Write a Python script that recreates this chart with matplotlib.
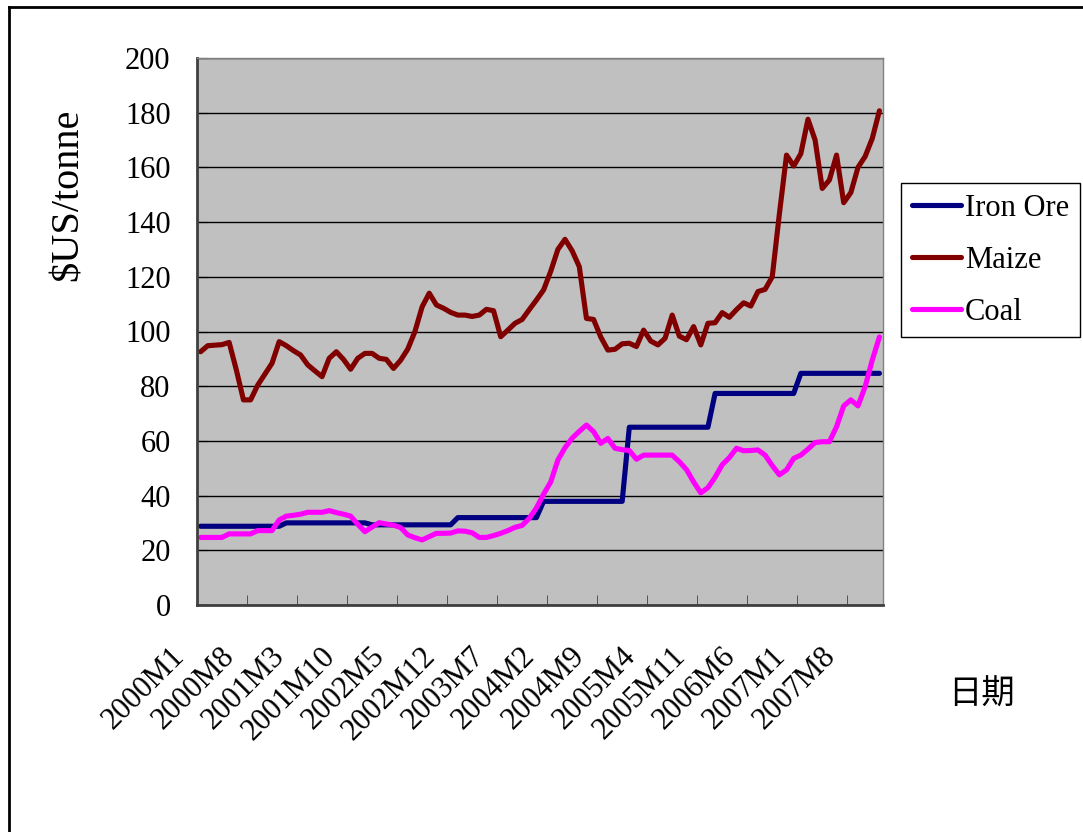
import matplotlib
matplotlib.use('Agg')
import matplotlib.pyplot as plt
from matplotlib.transforms import ScaledTranslation
from matplotlib.lines import Line2D
import numpy as np

plt.rcParams['font.family'] = ['Liberation Serif', 'Noto Sans CJK TC']

# monthly categories 2000M1 .. 2007M12
months = [f"{2000 + k // 12}M{k % 12 + 1}" for k in range(96)]

iron_ore = [
    28.79, 28.79, 28.79, 28.79, 28.79, 28.79, 28.79, 28.79, 28.79, 28.79, 28.79, 28.79,
    30.03, 30.03, 30.03, 30.03, 30.03, 30.03, 30.03, 30.03, 30.03, 30.03, 30.03, 30.03,
    29.31, 29.31, 29.31, 29.31, 29.31, 29.31, 29.31, 29.31, 29.31, 29.31, 29.31, 29.31,
    31.95, 31.95, 31.95, 31.95, 31.95, 31.95, 31.95, 31.95, 31.95, 31.95, 31.95, 31.95,
    37.90, 37.90, 37.90, 37.90, 37.90, 37.90, 37.90, 37.90, 37.90, 37.90, 37.90, 37.90,
    65.00, 65.00, 65.00, 65.00, 65.00, 65.00, 65.00, 65.00, 65.00, 65.00, 65.00, 65.00,
    77.35, 77.35, 77.35, 77.35, 77.35, 77.35, 77.35, 77.35, 77.35, 77.35, 77.35, 77.35,
    84.70, 84.70, 84.70, 84.70, 84.70, 84.70, 84.70, 84.70, 84.70, 84.70, 84.70, 84.70,
]

maize = [
    92.6, 94.8, 95.0, 95.2, 96.0, 86.0, 75.0, 75.0, 80.4, 84.4, 88.4, 96.3,
    94.8, 93.0, 91.4, 87.8, 85.6, 83.5, 90.2, 92.6, 89.8, 86.2, 90.2, 92.0,
    92.0, 90.2, 89.8, 86.5, 89.5, 93.6, 100.0, 109.0, 114.0, 109.7, 108.5, 107.0,
    106.0, 106.0, 105.5, 106.0, 108.1, 107.6, 98.1, 100.5, 103.0, 104.4, 108.0, 111.5,
    115.2, 122.0, 130.0, 133.7, 129.5, 123.7, 104.8, 104.4, 98.0, 93.2, 93.5, 95.5,
    95.7, 94.5, 100.5, 96.5, 95.1, 97.5, 106.0, 98.3, 97.0, 101.8, 95.1, 103.0,
    103.2, 106.9, 105.2, 108.0, 110.5, 109.3, 114.6, 115.4, 120.0, 143.0, 164.5, 160.5,
    165.0, 177.6, 170.0, 152.3, 155.4, 164.5, 147.1, 150.8, 160.0, 164.0, 170.6, 180.7,
]

coal = [
    24.7, 24.7, 24.7, 24.7, 26.0, 26.0, 26.0, 26.0, 27.2, 27.2, 27.2, 31.1,
    32.5, 32.8, 33.2, 33.9, 33.9, 33.9, 34.5, 33.8, 33.2, 32.5, 29.5, 26.8,
    28.5, 30.1, 29.6, 29.2, 28.3, 25.6, 24.6, 23.8, 25.0, 26.2, 26.2, 26.3,
    27.1, 27.0, 26.4, 24.7, 24.7, 25.4, 26.2, 27.2, 28.4, 29.1, 31.7, 35.5,
    40.5, 45.0, 53.0, 57.5, 61.0, 63.5, 65.8, 63.4, 59.1, 60.9, 57.3, 56.8,
    56.5, 53.3, 54.8, 54.8, 54.8, 54.8, 54.8, 52.4, 49.5, 45.0, 41.0, 42.9,
    46.7, 51.3, 53.9, 57.3, 56.4, 56.5, 56.7, 54.8, 51.0, 47.6, 49.4, 53.6,
    54.8, 57.0, 59.4, 59.7, 59.7, 65.2, 72.8, 75.0, 72.8, 79.8, 89.6, 98.0,
]

W, H = 1083, 832
fig = plt.figure(figsize=(W / 100, H / 100), dpi=100)
ax = fig.add_axes([197 / W, 1 - 605 / H, 686 / W, 547 / H])
ax.set_facecolor('#c0c0c0')

x = np.arange(len(months))
style = dict(lw=3.7, solid_capstyle='round', solid_joinstyle='round')
ax.plot(x, iron_ore, color='#000080', label='Iron Ore', **style)
ax.plot(x, maize, color='#800000', label='Maize', **style)
ax.plot(x, coal, color='#ff00ff', label='Coal', **style)

ax.set_xlim(-0.5, 95.5)
ax.set_ylim(0, 200)
ax.set_yticks(range(0, 201, 20))
ax.yaxis.grid(True, color='black', lw=1)
ax.set_axisbelow(True)
ax.tick_params(axis='y', direction='in', length=7, pad=19, labelsize=22)

# labels every 7 months, tick marks on category boundaries
ax.set_xticks(x[::7])
ax.set_xticklabels(months[::7], rotation=45, ha='right', va='center',
                   rotation_mode='anchor', fontsize=22)
ax.set_xticks(np.arange(-0.5, 95, 7), minor=True)
ax.tick_params(axis='x', which='major', length=0, pad=34)
ax.tick_params(axis='x', which='minor', direction='in', length=7, color='#404040')
shift = ScaledTranslation(-0.2, 0, fig.dpi_scale_trans)
for lab in ax.get_xticklabels():
    lab.set_transform(lab.get_transform() + shift)

for s in ['left', 'bottom']:
    ax.spines[s].set_color('#404040')
    ax.spines[s].set_linewidth(2)
for s in ['top', 'right']:
    ax.spines[s].set_color('#808080')
    ax.spines[s].set_linewidth(1)

fig.text(68 / W, 1 - 195 / H, '$US/tonne', rotation=90, fontsize=29,
         ha='center', va='center')
fig.text(981 / W, 1 - 694 / H, '日期', fontsize=24,
         family=['Noto Sans CJK TC'], ha='center', va='center')

leg = fig.legend(loc='upper left', bbox_to_anchor=(901 / W, 1 - 183 / H),
                 bbox_transform=fig.transFigure, fontsize=22, fancybox=False,
                 edgecolor='black', framealpha=1, handlelength=1.6,
                 handletextpad=0.15, labelspacing=0.75, borderpad=0.35,
                 borderaxespad=0)
leg.get_frame().set_linewidth(1)

# outer chart border (top and left visible)
fig.add_artist(Line2D([8.5 / W, 8.5 / W], [0, 1 - 7 / H], color='black', lw=2,
                      transform=fig.transFigure))
fig.add_artist(Line2D([8.5 / W, 1], [1 - 7 / H, 1 - 7 / H], color='black', lw=2,
                      transform=fig.transFigure))

fig.savefig('out.png', dpi=100)
